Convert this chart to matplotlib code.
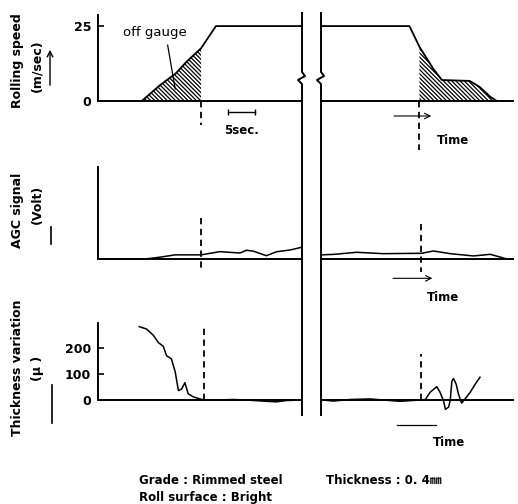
import matplotlib.pyplot as plt
import numpy as np

plt.rcParams['font.family'] = ['DejaVu Sans', 'Noto Sans CJK JP']
plt.rcParams['font.weight'] = 'bold'
plt.rcParams['hatch.linewidth'] = 0.9

# rolling speed (m/sec) vs time (sec), left part = start of coil, right = end
speed_t_left = [0, 8.1, 11.5, 14.4, 16.4, 19.1, 21.85, 37.8]
speed_v_left = [0, 0, 5.3, 9.2, 13.1, 17.6, 25, 25]
speed_t_right = [0, 16.35, 18.2, 20.7, 22.35, 27.5, 29.4, 31.3, 32.5, 35.5]
speed_v_right = [25, 25, 18.1, 10.9, 7.0, 6.7, 4.6, 1.4, 0, 0]

# AGC signal (arbitrary volt)
agc_t_left = [0, 8.7, 11.5, 14.3, 19.1, 22.6, 26.3, 27.5, 28.8, 31.2, 33.1, 35.6, 37.7]
agc_v_left = [0, 0, 0.2, 0.45, 0.45, 0.8, 0.65, 0.95, 0.85, 0.36, 0.79, 0.98, 1.27]
agc_t_right = [0, 2.3, 6.6, 11.5, 18.6, 20.8, 23.9, 28.2, 31.3, 34.4, 35.5]
agc_v_right = [0.45, 0.5, 0.73, 0.58, 0.62, 0.87, 0.58, 0.33, 0.51, 0, 0]

# thickness variation (micron)
thick_t_left = [7.65, 9.0, 10.25, 11.2, 12.1, 12.7, 13.6, 14.3, 14.9, 15.5, 16.1, 16.7,
                17.65, 18.9, 19.6, 22.0, 25.1, 28.1, 31.2, 33.1, 34.9, 37.7]
thick_v_left = [280, 271, 247, 219, 205, 169, 157, 108, 36, 42, 66, 24,
                12, 4, 0, 0, 2, -1, -5, -7, -2, 0]
thick_t_right = [0.3, 2.3, 5.4, 9.1, 11.5, 14.6, 18.3, 19.3, 20.2, 21.4, 22.0, 22.7, 23.0,
                 23.6, 23.9, 24.2, 24.5, 25.0, 25.4, 26.0, 26.7, 27.6, 28.5, 29.4]
thick_v_right = [0, -4, 2, 4, 0, -5, 0, 2, 30, 51, 30, -6, -36,
                 -27, 0, 72, 82, 60, 24, -12, 6, 30, 60, 87]

dash_left = 19.1
dash_right = 18.2
t_left_max, t_right_max = 37.8, 35.5

W, H = 518, 504
fig = plt.figure(figsize=(W / 100, H / 100), dpi=100)


def rect(x0, x1, ytop, ybot):
    return [x0 / W, 1 - ybot / H, (x1 - x0) / W, (ybot - ytop) / H]


XL = (98, 302)
XR = (321, 513)
rows = [(15, 101), (167, 259), (323, 400)]
ylims = [(0, 28.7), (0, 10), (0, 294)]

axes = []
for (yt, yb), yl in zip(rows, ylims):
    aL = fig.add_axes(rect(XL[0], XL[1], yt, yb))
    aR = fig.add_axes(rect(XR[0], XR[1], yt, yb))
    aL.set_xlim(0, t_left_max)
    aR.set_xlim(0, t_right_max)
    for a in (aL, aR):
        a.set_ylim(*yl)
        a.patch.set_alpha(0)
        a.spines['top'].set_visible(False)
        a.spines['right'].set_visible(False)
        a.spines['bottom'].set_linewidth(1.4)
        a.set_xticks([])
    aL.spines['left'].set_linewidth(1.4)
    aR.spines['left'].set_visible(False)
    aR.set_yticks([])
    axes.append((aL, aR))

lw = 1.3
dash = (0, (3.5, 2.5))
hatch = '\\' * 8

# --- rolling speed ---
a1, b1 = axes[0]
tl = np.array(speed_t_left)
tr = np.array(speed_t_right)
a1.plot(tl, speed_v_left, 'k', lw=lw)
b1.plot(tr, speed_v_right, 'k', lw=lw)
a1.fill_between(tl, speed_v_left, where=(tl >= 8.1) & (tl <= dash_left),
                facecolor='white', edgecolor='black', hatch=hatch, linewidth=0)
b1.fill_between(tr, speed_v_right, where=(tr >= dash_right) & (tr <= 32.5),
                facecolor='white', edgecolor='black', hatch=hatch, linewidth=0)
a1.set_yticks([0, 25], ['0', '25'])
a1.tick_params(axis='y', direction='in', length=4, width=1.2, pad=5, labelsize=9)
a1.plot([dash_left, dash_left], [0, -8], 'k', ls=dash, lw=1.3, clip_on=False)
b1.plot([dash_right, dash_right], [0, -16.3], 'k', ls=dash, lw=1.3, clip_on=False)
a1.annotate('off gauge', xy=(14.4, 3), xytext=(10.6, 22.7), ha='center', va='center',
            fontsize=9.5, fontweight='normal',
            arrowprops=dict(arrowstyle='-', lw=0.9, relpos=(0.68, 0)))
a1.plot([24.1, 29.1], [-3.7, -3.7], 'k', lw=1, marker='|', ms=5, clip_on=False)
a1.text(26.6, -9.7, '5sec.', ha='center', va='center', fontsize=8.5)
b1.annotate('', xy=(20.9, -5), xytext=(13, -5), annotation_clip=False,
            arrowprops=dict(arrowstyle='->', lw=0.8))
b1.text(21.5, -13.3, 'Time', ha='left', va='center', fontsize=8.5)

# --- AGC signal ---
a2, b2 = axes[1]
a2.plot(agc_t_left, agc_v_left, 'k', lw=1.1, clip_on=False)
b2.plot(agc_t_right, agc_v_right, 'k', lw=1.1, clip_on=False)
a2.set_yticks([])
a2.plot([dash_left, dash_left], [4.5, -1.2], 'k', ls=dash, lw=1.3, clip_on=False)
b2.plot([18.5, 18.5], [3.8, -1.4], 'k', ls=dash, lw=1.3, clip_on=False)
b2.annotate('', xy=(21.1, -2.1), xytext=(12.8, -2.1), annotation_clip=False,
            arrowprops=dict(arrowstyle='->', lw=0.8))
b2.text(19.5, -4.2, 'Time', ha='left', va='center', fontsize=8.5)

# --- thickness variation ---
a3, b3 = axes[2]
a3.plot(thick_t_left, thick_v_left, 'k', lw=1.1, clip_on=False)
b3.plot(thick_t_right, thick_v_right, 'k', lw=1.1, clip_on=False)
a3.set_yticks([0, 100, 200], ['0', '100', '200'])
a3.tick_params(axis='y', direction='in', length=4, width=1.2, pad=5, labelsize=9)
a3.plot([19.6, 19.6], [0, 275], 'k', ls=dash, lw=1.3)
b3.plot([18.5, 18.5], [0, 175], 'k', ls=dash, lw=1.3)
b3.plot([14.1, 21.3], [-95, -95], 'k', lw=0.9, clip_on=False)
b3.text(20.6, -164, 'Time', ha='left', va='center', fontsize=8.5)

# --- axis break: two vertical lines with zigzag ---
ov = fig.add_axes([0, 0, 1, 1])
ov.set_xlim(0, W)
ov.set_ylim(H, 0)
ov.axis('off')
for xb in (XL[1], XR[0]):
    ov.plot([xb, xb, xb + 3, xb - 4, xb, xb], [13, 72, 76, 80, 84, 415], 'k', lw=1.4)

# --- y labels with direction marks ---
ylabels = [('Rolling speed', '(m/sec)', 61, 66), ('AGC signal', '(Volt)', 210, 204),
           ('Thickness variation', '(\u03bc )', 368, 368)]
for l1, l2, yc1, yc2 in ylabels:
    fig.text(18 / W, 1 - yc1 / H, l1, rotation=90, ha='center', va='center', fontsize=9)
    fig.text(37 / W, 1 - yc2 / H, l2, rotation=90, ha='center', va='center', fontsize=9)
ov.annotate('', xy=(50, 47), xytext=(50, 88),
            arrowprops=dict(arrowstyle='->', lw=1.0))
ov.plot([51, 51], [227, 244], 'k', lw=1.2)
ov.plot([52, 52], [385, 423], 'k', lw=1.2)

fig.text(139 / W, 1 - 480 / H, 'Grade : Rimmed steel', ha='left', va='center', fontsize=8.5)
fig.text(326 / W, 1 - 480 / H, 'Thickness : 0. 4\u339c', ha='left', va='center', fontsize=8.5)
fig.text(139 / W, 1 - 498 / H, 'Roll surface : Bright', ha='left', va='center', fontsize=8.5)

fig.savefig('out.png', dpi=100)
